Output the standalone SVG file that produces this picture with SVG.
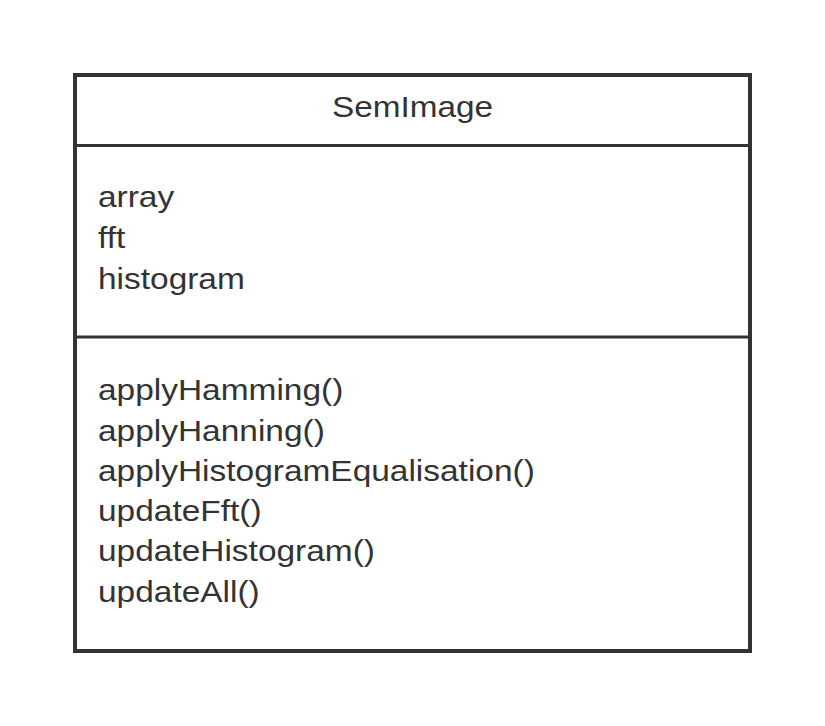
<svg xmlns="http://www.w3.org/2000/svg" width="825" height="726" viewBox="0 0 825 726">
<style>
.t{font-family:"Liberation Sans",Arial,sans-serif;font-size:30px;fill:#333333}
.b{fill:#ffffff;stroke:#333333;stroke-width:4}
.d{stroke:#333333;stroke-width:3}
</style>
<rect width="825" height="726" fill="#ffffff"/>
<g id="SemImage">
<rect class="b" x="75" y="75" width="675" height="576"/>
<line class="d" x1="75" y1="145.5" x2="750" y2="145.5"/>
<line class="d" x1="75" y1="337" x2="750" y2="337"/>
<text class="t" x="412.5" y="117" text-anchor="middle" transform="matrix(1.11,0,0,1,-45.4,0)">SemImage</text>
<g transform="matrix(1.115,0,0,1,-11.27,0)">
<text class="t" x="98" y="207">array</text>
<text class="t" x="98" y="248">fft</text>
<text class="t" x="98" y="289">histogram</text>
<text class="t" x="98" y="400">applyHamming()</text>
<text class="t" x="98" y="441">applyHanning()</text>
<text class="t" x="98" y="481">applyHistogramEqualisation()</text>
<text class="t" x="98" y="521">updateFft()</text>
<text class="t" x="98" y="561">updateHistogram()</text>
<text class="t" x="98" y="602">updateAll()</text>
</g>
</g>
<g id="connectors"/>
</svg>
